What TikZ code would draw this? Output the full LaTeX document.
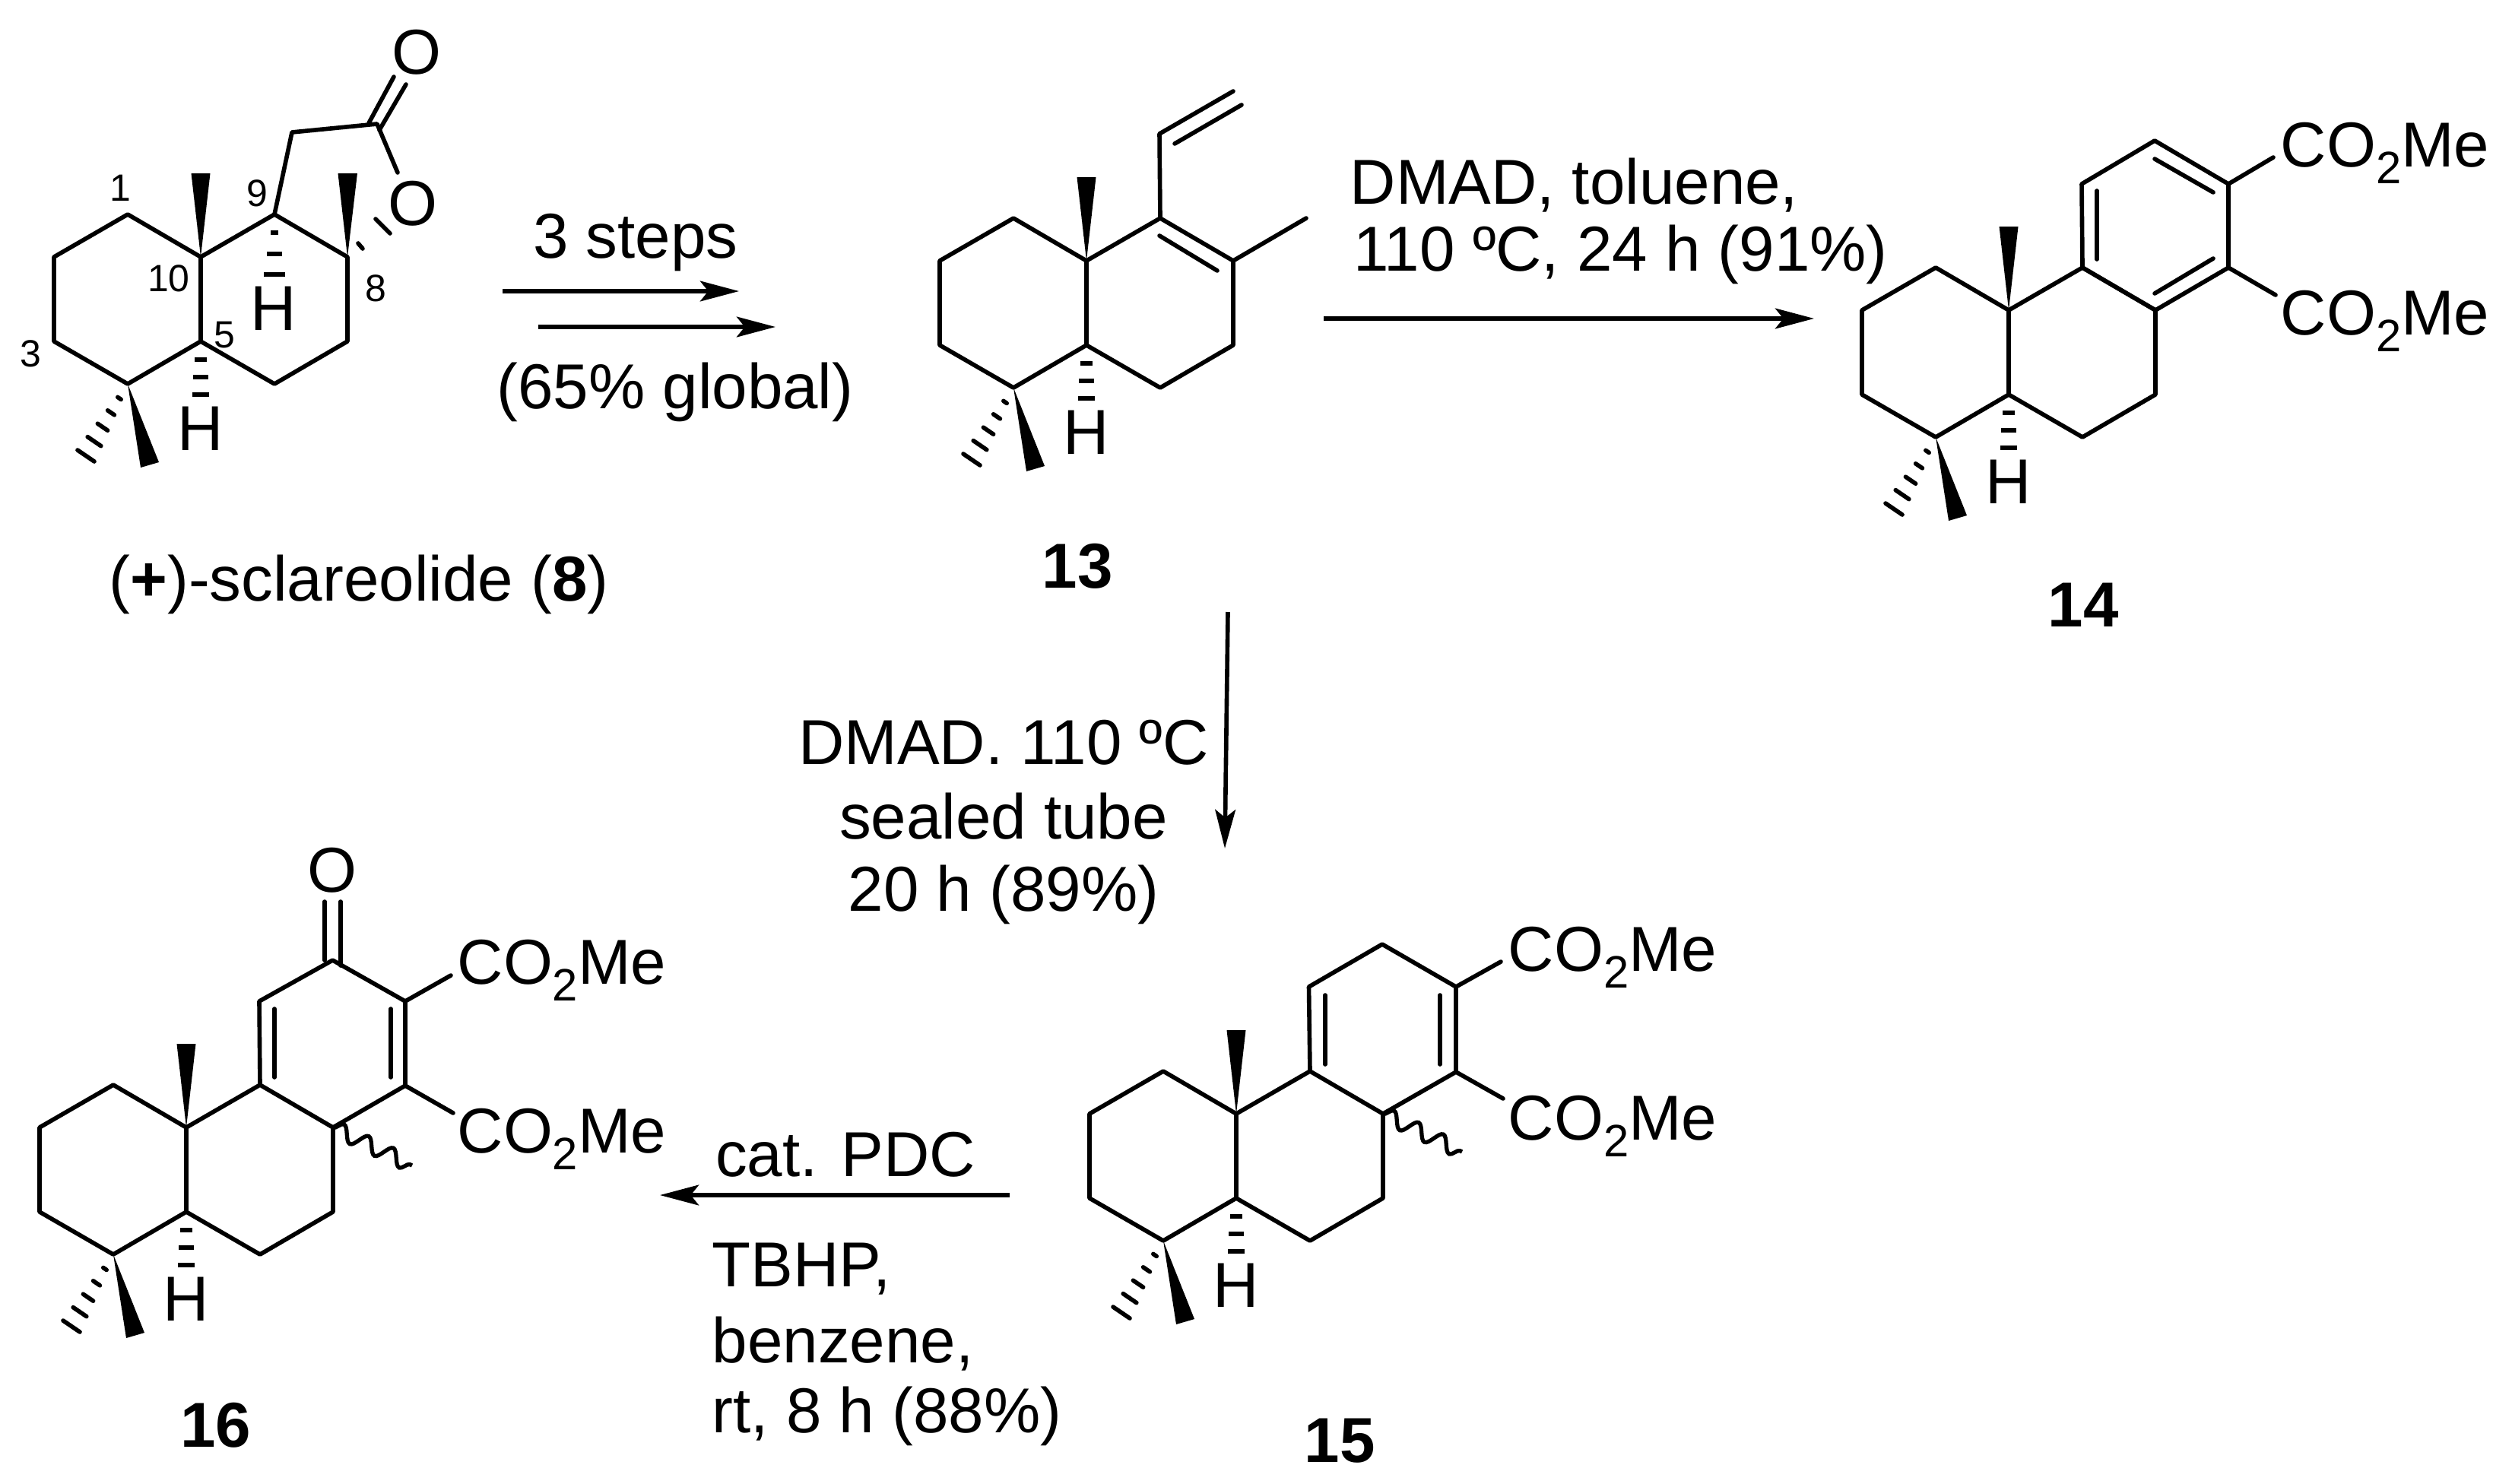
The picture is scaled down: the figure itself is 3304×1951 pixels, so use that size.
\documentclass[tikz,border=0pt]{standalone}
\usepackage{fontspec}
\setmainfont{Liberation Sans}
\usepackage{tikz}
\usetikzlibrary{positioning, calc, arrows.meta, decorations.pathmorphing}
\tikzset{>={Stealth[length=14.5pt,width=7.6pt,inset=3pt]}}
\tikzset{
    bond/.style={line width=1.6pt,line cap=round,line join=round},
    dashbond/.style={line width=1.6pt},
    wedge/.style={fill=black,draw=none},
    rxn/.style={line width=1.6pt,->},
    wavy/.style={line width=1.5pt,decorate,decoration={snake,segment length=0.36cm,amplitude=0.1cm}},
    txt/.style={inner sep=0,font=\fontsize{23.75}{23.75}\selectfont},
    num/.style={inner sep=0,font=\fontsize{14.2}{14.2}\selectfont},
    cpd/.style={inner sep=0,font=\fontsize{23.75}{23.75}\selectfont\bfseries},
}
\newcommand{\subtwo}{\raisebox{-0.26em}{\fontsize{17}{17}\selectfont 2}}
% the two fused rings with their methyls, the same in all five compounds
\newcommand{\decalin}[3]{%
    \begin{scope}[shift={(#2,#3)}]
    \foreach \n/\xy in {c10/{0,0},c1/{-96,-56},c2/{-193,0},c3/{-193,111},c4/{-96,167},c5/{0,111},
                        c9/{97,-56},c8/{193,0},c7/{193,111},c6/{97,167},
                        wa/{-12.5,-110},wb/{12.5,-110},wc/{-79,277},wd/{-55,270},
                        ha/{-162,254},hb/{-140,269}}
        \coordinate (#1\n) at (\xy);
    \node[txt] (#1h) at (0,226) {H};
    \end{scope}
    \draw[bond] (#1c10) -- (#1c1) -- (#1c2) -- (#1c3) -- (#1c4) -- (#1c5) -- (#1c10) -- (#1c9) -- (#1c8) -- (#1c7) -- (#1c6) -- (#1c5);
    \fill[wedge] (#1c10) -- (#1wa) -- (#1wb) -- cycle;
    \fill[wedge] (#1c4) -- (#1wc) -- (#1wd) -- cycle;
    \foreach \t in {.2,.4,.6,.8,1}
        \draw[bond] ($(#1c4)!\t!(#1ha)$) -- ($(#1c4)!\t!(#1hb)$);
    \foreach \d/\w in {24/8,47/10,70/11}
        \draw[dashbond] ($(#1c5)+(-\w,\d)$) -- ($(#1c5)+(\w,\d)$);
}
\begin{document}
\begin{tikzpicture}[x=0.01cm,y=-0.01cm]
    \useasboundingbox (0,0) rectangle (3304,1951);

    % sclareolide
    \decalin{a}{264}{338}
    \foreach \n/\xy in {CH/{384,174},CO/{496,163},d1/{485,162},d2/{518,101},d3/{499,171},d4/{534,111},
                        oe/{523,227},wa/{444.5,228},wb/{470,228},h1/{471,320},h2/{477,327},h3/{494,288},h4/{513,307}}
        \coordinate (a\n) at (\xy);
    \node[txt] (aOtop) at (548,69) {O};
    \node[txt] (aOr) at (543,268) {O};
    \draw[bond] (ac9) -- (aCH) -- (aCO) -- (aoe);
    \draw[bond] (ad1) -- (ad2);
    \draw[bond] (ad3) -- (ad4);
    \fill[wedge] (ac8) -- (awa) -- (awb) -- cycle;
    \draw[bond] (ah1) -- (ah2);
    \draw[bond] (ah3) -- (ah4);
    \foreach \d/\w in {24/5,52/10,79/14}
        \draw[dashbond] ($(ac9)+(-\w,\d)$) -- ($(ac9)+(\w,\d)$);
    \node[txt] (aH) at (360,406) {H};
    \node[num] (n1) at (158,247) {1};
    \node[num] (n9) at (338,254) {9};
    \node[num] (n10) at (222,366) {10};
    \node[num] (n8) at (494,379) {8};
    \node[num] (n5) at (295,441) {5};
    \node[num] (n3) at (40,465) {3};
    \node[txt] (aname) at (472,769) {(\textbf{+})-sclareolide (\textbf{8})};

    % first two arrows
    \coordinate (r1a) at (661,383);
    \coordinate (r1b) at (972,383);
    \coordinate (r2a) at (708,430);
    \coordinate (r2b) at (1020,430);
    \draw[rxn] (r1a) -- (r1b);
    \draw[rxn] (r2a) -- (r2b);
    \node[txt] (steps) at (836,319) {3 steps};
    \node[txt] (global) at (888,516) {(65\% global)};

    % 13
    \decalin{b}{1429}{343}
    \coordinate (bv1) at (1525,176);
    \coordinate (bv2) at (1622,120);
    \coordinate (bv3) at (1545,189);
    \coordinate (bv4) at (1633,138);
    \coordinate (bme) at (1718,287);
    \coordinate (bi1) at (1525,310);
    \coordinate (bi2) at (1601,356);
    \draw[bond] (bc9) -- (bv1) -- (bv2);
    \draw[bond] (bv3) -- (bv4);
    \draw[bond] (bc8) -- (bme);
    \draw[bond] (bi1) -- (bi2);
    \node[cpd] (b13) at (1417,745) {13};

    \coordinate (r3a) at (1741,419);
    \coordinate (r3b) at (2386,419);
    \draw[rxn] (r3a) -- (r3b);
    \node[txt,anchor=west] (dmad1) at (1775,244) {DMAD, toluene,};
    \node[txt,anchor=west] (dmad2) at (1780,335) {110 ºC, 24 h (91\%)};

    % 14
    \decalin{c}{2642}{408}
    \foreach \n/\xy in {r11/{2738,242},r12/{2834,185},r13/{2931,242},r14/{2931,352},
                        i1/{2758,251},i2/{2758,341},i3/{2834,209},i4/{2911,253},i5/{2911,340},i6/{2834,386},
                        e1/{2990,207},e2/{2993,388}}
        \coordinate (c\n) at (\xy);
    \draw[bond] (cc9) -- (cr11) -- (cr12) -- (cr13) -- (cr14) -- (cc8);
    \draw[bond] (cc9) -- (cc8);
    \draw[bond] (ci1) -- (ci2);
    \draw[bond] (ci3) -- (ci4);
    \draw[bond] (ci5) -- (ci6);
    \draw[bond] (cr13) -- (ce1);
    \draw[bond] (cr14) -- (ce2);
    \node[txt,anchor=west] (cest1) at (2999,201) {CO\subtwo Me};
    \node[txt,anchor=west] (cest2) at (2999,422) {CO\subtwo Me};
    \node[cpd] (c14) at (2740,796) {14};

    % down to 15
    \coordinate (r4a) at (1615,805);
    \coordinate (r4b) at (1611,1116);
    \draw[rxn] (r4a) -- (r4b);
    \node[txt] (tube1) at (1320,977) {DMAD. 110 ºC};
    \node[txt] (tube2) at (1320,1074) {sealed tube};
    \node[txt] (tube3) at (1320,1177) {20 h (89\%)};

    % 15
    \decalin{d}{1626}{1465}
    \foreach \n/\xy in {r11/{1721.5,1298},r12/{1818,1242},r13/{1915,1298},r14/{1915,1410},
                        i1/{1743,1309},i2/{1743,1400},i3/{1894,1309},i4/{1894,1400},
                        e1/{1974,1265},e2/{1977,1445},w/{1923,1515}}
        \coordinate (d\n) at (\xy);
    \draw[bond] (dc9) -- (dr11) -- (dr12) -- (dr13) -- (dr14) -- (dc8);
    \draw[bond] (di1) -- (di2);
    \draw[bond] (di3) -- (di4);
    \draw[bond] (dr13) -- (de1);
    \draw[bond] (dr14) -- (de2);
    \draw[wavy] (dc8) -- (dw);
    \node[txt,anchor=west] (dest1) at (1983,1259) {CO\subtwo Me};
    \node[txt,anchor=west] (dest2) at (1983,1481) {CO\subtwo Me};
    \node[cpd] (d15) at (1762,1895) {15};

    % to 16
    \coordinate (r5a) at (1328,1572);
    \coordinate (r5b) at (868,1572);
    \draw[rxn] (r5a) -- (r5b);
    \node[txt] (pdc) at (1112,1519) {cat. PDC};
    \node[txt,anchor=west] (tbhp) at (936,1669) {TBHP,};
    \node[txt,anchor=west] (benz) at (936,1768) {benzene,};
    \node[txt,anchor=west] (rt) at (936,1863) {rt, 8 h (88\%)};

    % 16
    \decalin{e}{245}{1483}
    \foreach \n/\xy in {r11/{341,1317},r12/{437.5,1263},r13/{533,1317},r14/{533,1428},
                        i1/{361,1327},i2/{361,1417},i3/{514,1327},i4/{514,1417},
                        o1/{427,1186},o2/{427,1263},o3/{448,1186},o4/{448,1270},
                        e1/{593,1283},e2/{596,1464},w/{542,1533}}
        \coordinate (e\n) at (\xy);
    \draw[bond] (ec9) -- (er11) -- (er12) -- (er13) -- (er14) -- (ec8);
    \draw[bond] (ei1) -- (ei2);
    \draw[bond] (ei3) -- (ei4);
    \draw[bond] (eo1) -- (eo2);
    \draw[bond] (eo3) -- (eo4);
    \draw[bond] (er13) -- (ee1);
    \draw[bond] (er14) -- (ee2);
    \draw[wavy] (ec8) -- (ew);
    \node[txt] (eO) at (437,1145) {O};
    \node[txt,anchor=west] (eest1) at (601,1276) {CO\subtwo Me};
    \node[txt,anchor=west] (eest2) at (601,1498) {CO\subtwo Me};
    \node[cpd] (e16) at (284,1875) {16};
\end{tikzpicture}
\end{document}
